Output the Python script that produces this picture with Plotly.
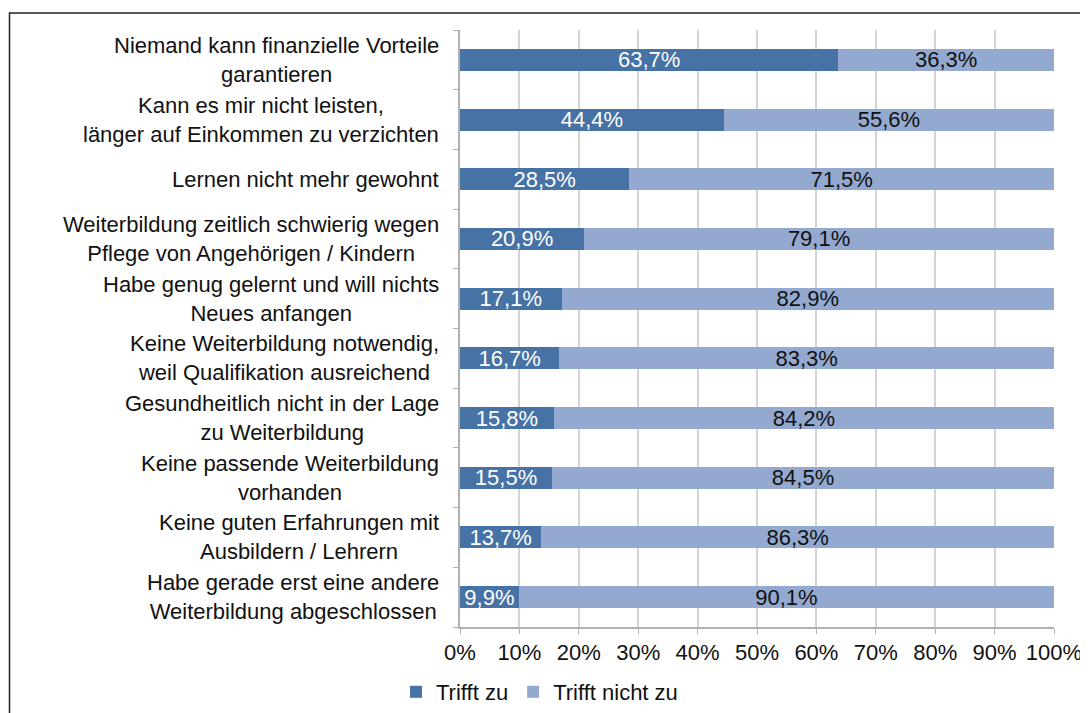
import plotly.graph_objects as go

categories = [
    "Niemand kann finanzielle Vorteile<br>garantieren",
    "Kann es mir nicht leisten,<br>länger auf Einkommen zu verzichten",
    "Lernen nicht mehr gewohnt",
    "Weiterbildung zeitlich schwierig wegen<br>Pflege von Angehörigen / Kindern",
    "Habe genug gelernt und will nichts<br>Neues anfangen",
    "Keine Weiterbildung notwendig,<br>weil Qualifikation ausreichend",
    "Gesundheitlich nicht in der Lage<br>zu Weiterbildung",
    "Keine passende Weiterbildung<br>vorhanden",
    "Keine guten Erfahrungen mit<br>Ausbildern / Lehrern",
    "Habe gerade erst eine andere<br>Weiterbildung abgeschlossen",
]
trifft_zu = [63.7, 44.4, 28.5, 20.9, 17.1, 16.7, 15.8, 15.5, 13.7, 9.9]
trifft_nicht_zu = [36.3, 55.6, 71.5, 79.1, 82.9, 83.3, 84.2, 84.5, 86.3, 90.1]
x_ticks = [0, 10, 20, 30, 40, 50, 60, 70, 80, 90, 100]

FONT = "Liberation Sans, Arial, sans-serif"
FS = 22
DARK = "#4672a6"
LIGHT = "#93a9cf"

def fmt(v):
    return f"{v:.1f}%".replace(".", ",")

OFF = 8  # page body margin
W, H = 1088 - OFF, 713 - OFF
PX0, PX1, PY0, PY1 = 460, 1054, 30, 627  # plot area in page pixels
L = PX0 - OFF
T = PY0 - OFF
PW = PX1 - PX0
PH = PY1 - PY0
R = W - L - PW
B = H - T - PH

def px(xp):
    return (xp - PX0) / PW

def py(yp):
    return (PY1 - yp) / PH

fig = go.Figure()
fig.add_trace(go.Bar(
    y=list(range(len(categories))), x=trifft_zu, orientation="h", name="Trifft zu",
    marker=dict(color=DARK, line=dict(width=0)),
    text=[fmt(v) for v in trifft_zu], textposition="inside", insidetextanchor="middle",
    textfont=dict(color="white", size=FS, family=FONT),
))
fig.add_trace(go.Bar(
    y=list(range(len(categories))), x=trifft_nicht_zu, orientation="h", name="Trifft nicht zu",
    marker=dict(color=LIGHT, line=dict(width=0)),
    text=[fmt(v) for v in trifft_nicht_zu], textposition="inside", insidetextanchor="middle",
    textfont=dict(color="#111111", size=FS, family=FONT),
))

annotations = []
for i, c in enumerate(categories):
    annotations.append(dict(
        x=px(441), xref="paper", y=i, yref="y", text=c, showarrow=False,
        xanchor="right", yanchor="middle", align="center",
        font=dict(size=FS, family=FONT, color="#111111"),
    ))

fig.update_layout(
    width=W, height=H,
    margin=dict(l=L, r=R, t=T, b=B, autoexpand=False),
    barmode="stack", bargap=0.63,
    plot_bgcolor="white", paper_bgcolor="white",
    font=dict(family=FONT, size=FS, color="#111111"),
    uniformtext=dict(minsize=FS, mode="show"),
    showlegend=True,
    legend=dict(orientation="h", x=px(396), xanchor="left", y=py(692), yanchor="middle",
                font=dict(size=FS, family=FONT), itemwidth=30, traceorder="normal",
                bgcolor="rgba(0,0,0,0)"),
    annotations=annotations,
    shapes=[dict(type="rect", xref="paper", yref="paper",
                 x0=px(9.5), x1=px(1110),
                 y0=py(740), y1=py(13),
                 line=dict(color="#222222", width=1.5), layer="below")],
)
fig.update_xaxes(
    range=[0, 100], tickvals=x_ticks, ticktext=[f"{t}%" for t in x_ticks],
    showgrid=True, gridcolor="#d4d4d4", gridwidth=1.5,
    showline=True, linecolor="#b0b0b0", linewidth=1.5,
    ticks="outside", ticklen=5, tickcolor="#b0b0b0", automargin=False,
    tickfont=dict(size=FS, family=FONT, color="#111111"), zeroline=False,
)
fig.update_yaxes(
    range=[len(categories) - 0.5, -0.5], showticklabels=False,
    tickvals=[i + 0.5 for i in range(-1, len(categories))],
    ticks="outside", ticklen=5, tickcolor="#b0b0b0", automargin=False,
    showline=True, linecolor="#b0b0b0", linewidth=1.5, showgrid=False, zeroline=False,
)

fig.write_html("out.html")
